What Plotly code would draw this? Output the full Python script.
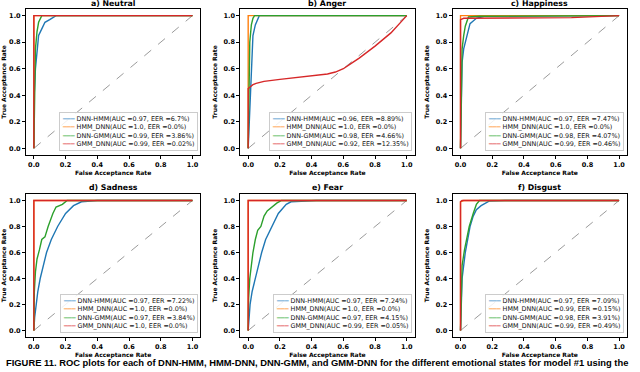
import plotly.graph_objects as go

# ---------------- data ----------------
panel_titles = ["a) Neutral", "b) Anger", "c) Happiness", "d) Sadness", "e) Fear", "f) Disgust"]
model_names = ["DNN-HMM", "HMM_DNN", "DNN-GMM", "GMM_DNN"]
model_colors = ["#1f77b4", "#ff7f0e", "#2ca02c", "#d62728"]
legend_colors = ["#7fb2d9", "#ffb370", "#7fc97f", "#ea7e7f"]
tick_vals = [0.0, 0.2, 0.4, 0.6, 0.8, 1.0]
tick_text = ["0.0", "0.2", "0.4", "0.6", "0.8", "1.0"]

auc_neutral = ["0.97", "1.0", "0.99", "0.99"]
eer_neutral = ["6.7", "0.0", "3.86", "0.02"]
auc_anger = ["0.96", "1.0", "0.98", "0.92"]
eer_anger = ["8.89", "0.0", "4.66", "12.35"]
auc_happiness = ["0.97", "1.0", "0.98", "0.99"]
eer_happiness = ["7.47", "0.0", "4.07", "0.46"]
auc_sadness = ["0.97", "1.0", "0.97", "1.0"]
eer_sadness = ["7.22", "0.0", "3.84", "0.0"]
auc_fear = ["0.97", "1.0", "0.97", "0.99"]
eer_fear = ["7.24", "0.0", "4.15", "0.05"]
auc_disgust = ["0.97", "0.99", "0.98", "0.99"]
eer_disgust = ["7.09", "0.15", "3.91", "0.49"]

# ROC curves: [false acceptance rates], [true acceptance rates]
neutral_dnn_hmm_fpr = [0, 0.0, 0.01, 0.02, 0.03, 0.05, 0.07, 0.10, 0.14, 1.0]
neutral_dnn_hmm_tpr = [0, 0.35, 0.60, 0.75, 0.85, 0.90, 0.95, 0.97, 1.0, 1.0]
neutral_hmm_dnn_fpr = [0, 0, 1.0]
neutral_hmm_dnn_tpr = [0, 1.0, 1.0]
neutral_dnn_gmm_fpr = [0, 0.005, 0.01, 0.02, 0.03, 0.05, 1.0]
neutral_dnn_gmm_tpr = [0, 0.50, 0.75, 0.88, 0.95, 1.0, 1.0]
neutral_gmm_dnn_fpr = [0, 0, 1.0]
neutral_gmm_dnn_tpr = [0, 1.0, 1.0]

anger_dnn_hmm_fpr = [0, 0.01, 0.015, 0.02, 0.025, 0.03, 0.045, 0.07, 1.0]
anger_dnn_hmm_tpr = [0, 0.30, 0.45, 0.60, 0.75, 0.85, 0.93, 1.0, 1.0]
anger_hmm_dnn_fpr = [0, 0, 0.04, 1.0]
anger_hmm_dnn_tpr = [0, 1.0, 1.0, 1.0]
anger_dnn_gmm_fpr = [0, 0.01, 0.02, 0.03, 0.04, 1.0]
anger_dnn_gmm_tpr = [0, 0.80, 0.93, 0.98, 1.0, 1.0]
anger_gmm_dnn_fpr = [0, 0, 0.01, 0.03, 0.05, 0.10, 0.20, 0.30, 0.40, 0.50, 0.55, 0.60, 0.65, 0.70, 0.80, 0.90, 1.0]
anger_gmm_dnn_tpr = [0, 0.45, 0.46, 0.48, 0.49, 0.505, 0.52, 0.535, 0.545, 0.56, 0.575, 0.60, 0.64, 0.68, 0.77, 0.87, 1.0]

happiness_dnn_hmm_fpr = [0, 0.005, 0.01, 0.02, 0.03, 0.04, 0.05, 0.06, 0.08, 0.10, 0.15, 1.0]
happiness_dnn_hmm_tpr = [0, 0.50, 0.65, 0.75, 0.80, 0.85, 0.90, 0.94, 0.96, 0.98, 0.995, 1.0]
happiness_hmm_dnn_fpr = [0, 0, 0.03, 1.0]
happiness_hmm_dnn_tpr = [0, 1.0, 1.0, 1.0]
happiness_dnn_gmm_fpr = [0, 0.005, 0.01, 0.02, 0.03, 0.05, 0.12, 1.0]
happiness_dnn_gmm_tpr = [0, 0.60, 0.75, 0.85, 0.92, 0.99, 0.995, 1.0]
happiness_gmm_dnn_fpr = [0, 0, 0.02, 0.70, 1.0]
happiness_gmm_dnn_tpr = [0, 0.97, 0.98, 0.985, 1.0]

sadness_dnn_hmm_fpr = [0, 0.005, 0.015, 0.025, 0.04, 0.06, 0.08, 0.11, 0.15, 0.20, 0.25, 0.30, 0.40, 1.0]
sadness_dnn_hmm_tpr = [0, 0.10, 0.20, 0.30, 0.40, 0.50, 0.60, 0.70, 0.80, 0.90, 0.96, 0.99, 1.0, 1.0]
sadness_hmm_dnn_fpr = [0, 0, 1.0]
sadness_hmm_dnn_tpr = [0, 1.0, 1.0]
sadness_dnn_gmm_fpr = [0, 0.003, 0.01, 0.02, 0.035, 0.05, 0.07, 0.09, 0.12, 0.14, 0.18, 0.21, 1.0]
sadness_dnn_gmm_tpr = [0, 0.30, 0.45, 0.55, 0.62, 0.70, 0.72, 0.80, 0.90, 0.95, 0.97, 1.0, 1.0]
sadness_gmm_dnn_fpr = [0, 0, 1.0]
sadness_gmm_dnn_tpr = [0, 1.0, 1.0]

fear_dnn_hmm_fpr = [0, 0.005, 0.012, 0.025, 0.044, 0.065, 0.085, 0.11, 0.15, 0.19, 0.24, 0.27, 0.43, 1.0]
fear_dnn_hmm_tpr = [0, 0.10, 0.20, 0.30, 0.40, 0.50, 0.60, 0.70, 0.80, 0.90, 0.97, 0.99, 1.0, 1.0]
fear_hmm_dnn_fpr = [0, 0, 1.0]
fear_hmm_dnn_tpr = [0, 1.0, 1.0]
fear_dnn_gmm_fpr = [0, 0.003, 0.01, 0.02, 0.03, 0.045, 0.06, 0.08, 0.10, 0.12, 0.15, 0.18, 0.21, 1.0]
fear_dnn_gmm_tpr = [0, 0.25, 0.40, 0.52, 0.60, 0.70, 0.77, 0.80, 0.88, 0.92, 0.95, 0.98, 1.0, 1.0]
fear_gmm_dnn_fpr = [0, 0, 1.0]
fear_gmm_dnn_tpr = [0, 1.0, 1.0]

disgust_dnn_hmm_fpr = [0, 0.005, 0.01, 0.03, 0.045, 0.06, 0.08, 0.10, 0.13, 0.18, 0.28, 1.0]
disgust_dnn_hmm_tpr = [0, 0.25, 0.40, 0.60, 0.70, 0.80, 0.88, 0.93, 0.96, 0.995, 1.0, 1.0]
disgust_hmm_dnn_fpr = [0, 0, 0.02, 1.0]
disgust_hmm_dnn_tpr = [0, 0.99, 1.0, 1.0]
disgust_dnn_gmm_fpr = [0, 0.005, 0.01, 0.025, 0.04, 0.055, 0.08, 0.10, 0.12, 1.0]
disgust_dnn_gmm_tpr = [0, 0.30, 0.50, 0.62, 0.70, 0.80, 0.90, 0.97, 1.0, 1.0]
disgust_gmm_dnn_fpr = [0, 0, 0.01, 1.0]
disgust_gmm_dnn_tpr = [0, 0.99, 1.0, 1.0]

panel_curves = [
    [(neutral_dnn_hmm_fpr, neutral_dnn_hmm_tpr), (neutral_hmm_dnn_fpr, neutral_hmm_dnn_tpr),
     (neutral_dnn_gmm_fpr, neutral_dnn_gmm_tpr), (neutral_gmm_dnn_fpr, neutral_gmm_dnn_tpr)],
    [(anger_dnn_hmm_fpr, anger_dnn_hmm_tpr), (anger_hmm_dnn_fpr, anger_hmm_dnn_tpr),
     (anger_dnn_gmm_fpr, anger_dnn_gmm_tpr), (anger_gmm_dnn_fpr, anger_gmm_dnn_tpr)],
    [(happiness_dnn_hmm_fpr, happiness_dnn_hmm_tpr), (happiness_hmm_dnn_fpr, happiness_hmm_dnn_tpr),
     (happiness_dnn_gmm_fpr, happiness_dnn_gmm_tpr), (happiness_gmm_dnn_fpr, happiness_gmm_dnn_tpr)],
    [(sadness_dnn_hmm_fpr, sadness_dnn_hmm_tpr), (sadness_hmm_dnn_fpr, sadness_hmm_dnn_tpr),
     (sadness_dnn_gmm_fpr, sadness_dnn_gmm_tpr), (sadness_gmm_dnn_fpr, sadness_gmm_dnn_tpr)],
    [(fear_dnn_hmm_fpr, fear_dnn_hmm_tpr), (fear_hmm_dnn_fpr, fear_hmm_dnn_tpr),
     (fear_dnn_gmm_fpr, fear_dnn_gmm_tpr), (fear_gmm_dnn_fpr, fear_gmm_dnn_tpr)],
    [(disgust_dnn_hmm_fpr, disgust_dnn_hmm_tpr), (disgust_hmm_dnn_fpr, disgust_hmm_dnn_tpr),
     (disgust_dnn_gmm_fpr, disgust_dnn_gmm_tpr), (disgust_gmm_dnn_fpr, disgust_gmm_dnn_tpr)],
]
panel_auc = [auc_neutral, auc_anger, auc_happiness, auc_sadness, auc_fear, auc_disgust]
panel_eer = [eer_neutral, eer_anger, eer_happiness, eer_sadness, eer_fear, eer_disgust]
chance_line = [0.0, 1.0]

caption = ("FIGURE 11. ROC plots for each of DNN-HMM, HMM-DNN, DNN-GMM, and GMM-DNN "
           "for the different emotional states for model #1 using the")

# ---------------- layout geometry ----------------
W, H = 640, 372
col_px = [(24, 199), (239, 414), (452, 627)]
row_px = [(9, 155), (194, 337)]
title_px = [4, 187]

fig = go.Figure()
annotations = []
font_fam = "DejaVu Sans"

for p in range(6):
    r, c = divmod(p, 3)
    ax = "" if p == 0 else str(p + 1)
    xa, ya = "x" + ax, "y" + ax
    x0, x1 = col_px[c]
    ytop, ybot = row_px[r]
    dom_x = [x0 / W, x1 / W]
    dom_y = [1 - ybot / H, 1 - ytop / H]
    axis_common = dict(
        range=[-0.05, 1.05], tickvals=tick_vals, ticktext=tick_text,
        showgrid=False, zeroline=False, showline=True, mirror=True,
        linecolor="black", linewidth=1, ticks="outside", ticklen=3,
        tickwidth=1, tickcolor="black",
        tickfont=dict(family=font_fam, size=6.5, color="black", weight="bold"),
    )
    fig.update_layout({
        "xaxis" + ax: dict(axis_common, domain=dom_x, anchor=ya,
                           title=dict(text="False Acceptance Rate", standoff=2,
                                      font=dict(family=font_fam, size=6, color="black", weight="bold"))),
        "yaxis" + ax: dict(axis_common, domain=dom_y, anchor=xa,
                           title=dict(text="True Acceptance Rate", standoff=5,
                                      font=dict(family=font_fam, size=6, color="black", weight="bold"))),
    })
    # chance diagonal
    fig.add_trace(go.Scatter(x=chance_line, y=chance_line, xaxis=xa, yaxis=ya, mode="lines",
                             line=dict(color="gray", width=0.8, dash="dash"),
                             showlegend=False, hoverinfo="skip"))
    for k in range(4):
        fx, ty = panel_curves[p][k]
        fig.add_trace(go.Scatter(x=fx, y=ty, xaxis=xa, yaxis=ya, mode="lines",
                                 name=model_names[k],
                                 line=dict(color=model_colors[k], width=1.4),
                                 showlegend=False))
    # title
    annotations.append(dict(text=panel_titles[p], xref=xa + " domain", yref="paper",
                            x=0.5, y=1 - title_px[r] / H, yanchor="middle", xanchor="center",
                            showarrow=False, borderpad=0,
                            font=dict(family=font_fam, size=7.8, color="black", weight="bold")))
    # legend box
    lines = []
    for k in range(4):
        lines.append('<span style="color:%s">━━━</span> %s(AUC =%s, EER =%s%%)'
                     % (legend_colors[k], model_names[k], panel_auc[p][k], panel_eer[p][k]))
    annotations.append(dict(text="<br>".join(lines), xref=xa + " domain", yref=ya + " domain",
                            x=0.985, y=0.025, xanchor="right", yanchor="bottom", align="left",
                            showarrow=False, bgcolor="rgba(255,255,255,0.85)",
                            bordercolor="#cccccc", borderwidth=1, borderpad=2,
                            font=dict(family=font_fam, size=6.4, color="#111111")))

annotations.append(dict(text=caption, xref="paper", yref="paper", x=3 / W, y=1 - 362 / H,
                        xanchor="left", yanchor="middle", showarrow=False, borderpad=0,
                        font=dict(family="Liberation Sans", size=9.4, color="black", weight="bold")))

fig.update_layout(width=W, height=H, margin=dict(l=0, r=0, t=0, b=0),
                  paper_bgcolor="white", plot_bgcolor="white",
                  annotations=annotations, showlegend=False)

fig.write_html("out.html", config={"displayModeBar": False},
               post_script="document.body.style.margin='0';document.body.style.overflow='hidden';")
